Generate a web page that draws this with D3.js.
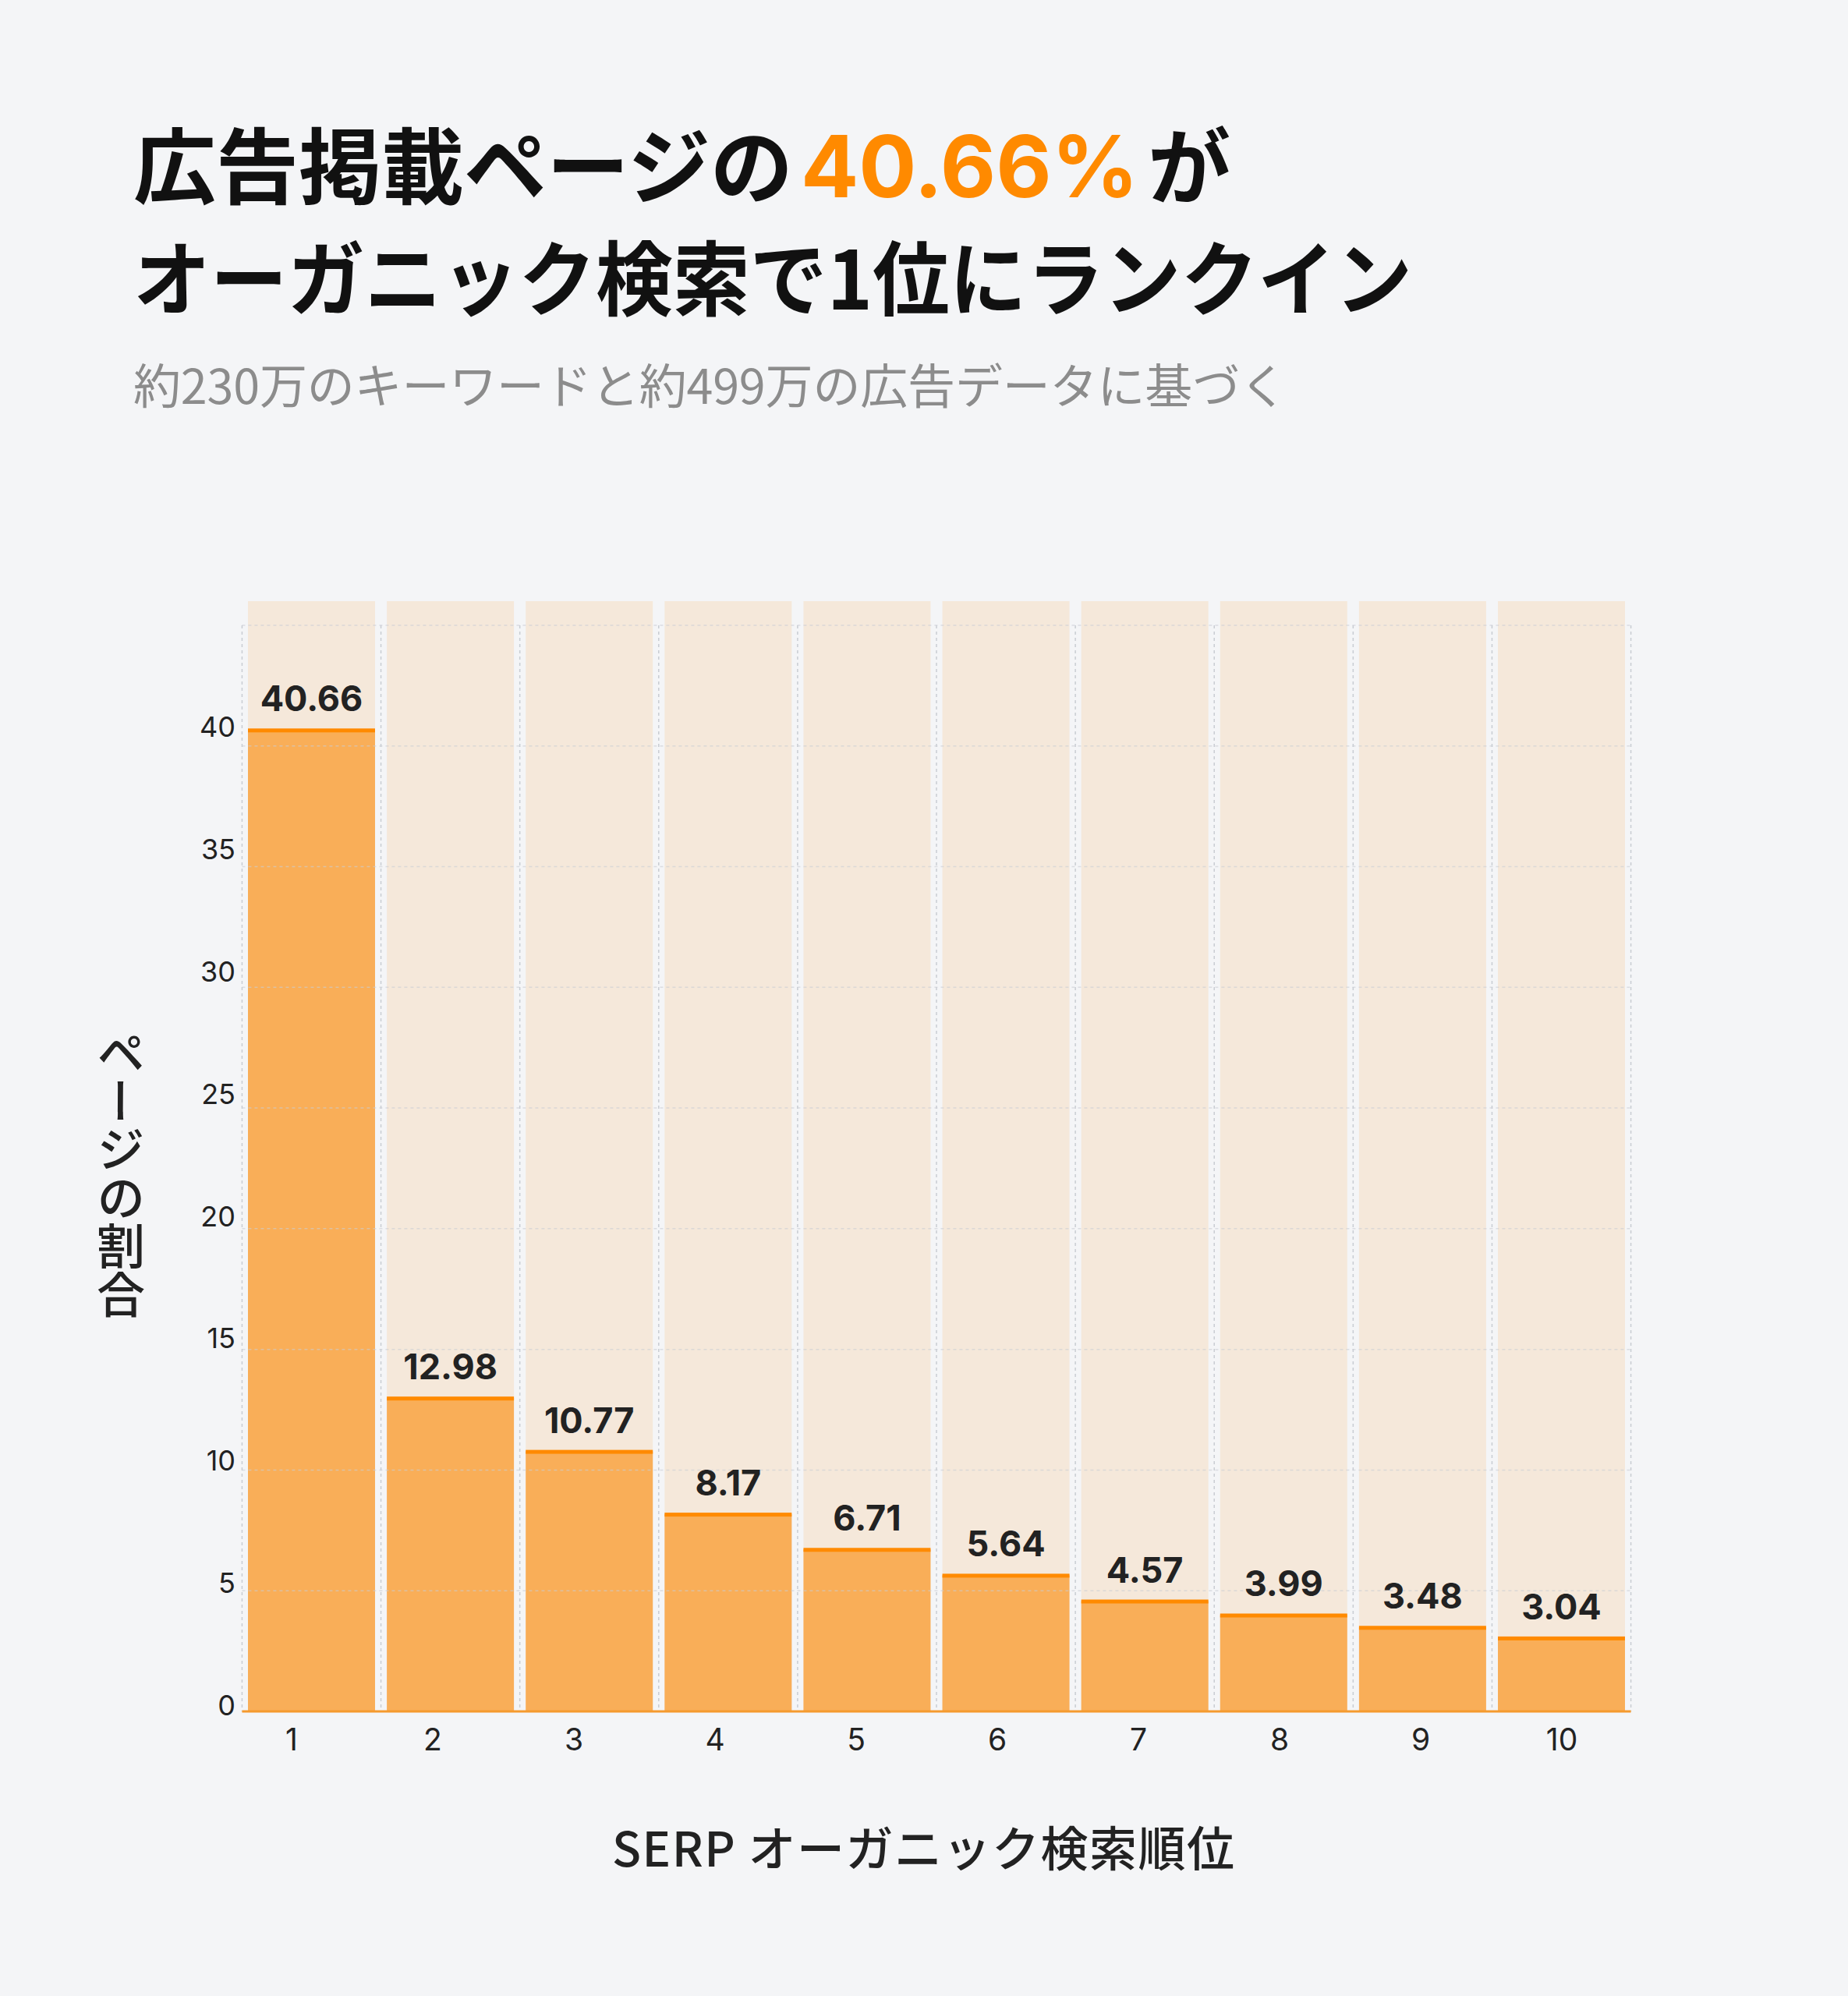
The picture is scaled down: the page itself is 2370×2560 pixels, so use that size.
<!DOCTYPE html>
<html><head><meta charset="utf-8">
<script src="https://cdn.jsdelivr.net/npm/d3@7"></script>
<style>
html,body{margin:0;padding:0;background:#F4F5F7;}
svg{display:block;}
</style></head>
<body>
<script>
const categories = ["1","2","3","4","5","6","7","8","9","10"];
const values = [40.66, 12.98, 10.77, 8.17, 6.71, 5.64, 4.57, 3.99, 3.48, 3.04];
const yTicks = [0,5,10,15,20,25,30,35,40];
const gridTicks = [0,5,10,15,20,25,30,35,40,45];
const titleLine1 = ["広告掲載ページの", "40.66%", "が"];
const titleLine2 = "オーガニック検索で1位にランクイン";
const subtitle = "約230万のキーワードと約499万の広告データに基づく";
const yTitle = "ページの割合";
const xTitle = "SERP オーガニック検索順位";

const W = 2370, H = 2560;
const JP = "'Noto Sans CJK JP','Noto Sans',sans-serif";
const NUM = "Inter,'Noto Sans',sans-serif";

const svg = d3.select("body").append("svg").attr("width", W).attr("height", H);
svg.append("rect").attr("width", W).attr("height", H).attr("fill", "#F4F5F7");

// Title
const t1 = svg.append("text").attr("x", 171).attr("y", 253)
  .attr("font-family", JP).attr("font-weight", 700).attr("font-size", 106).attr("fill", "#111");
t1.append("tspan").text(titleLine1[0]);
t1.append("tspan").attr("dx", 10).attr("fill", "#FF8A00")
  .attr("font-family", NUM).attr("font-size", 110).text(titleLine1[1]);
t1.append("tspan").attr("dx", 12).text(titleLine1[2]);

svg.append("text").attr("x", 171).attr("y", 397)
  .attr("font-family", JP).attr("font-weight", 700).attr("font-size", 104).attr("fill", "#111")
  .attr("textLength", 1640).attr("lengthAdjust", "spacingAndGlyphs")
  .text(titleLine2);

svg.append("text").attr("x", 171).attr("y", 518)
  .attr("font-family", JP).attr("font-weight", 400).attr("font-size", 61).attr("fill", "#8C8C8C")
  .attr("textLength", 1480).attr("lengthAdjust", "spacing")
  .text(subtitle);

// Scales
const x = d3.scaleBand().domain(categories).range([318, 2084]).paddingInner(0.085).paddingOuter(0);
const y = d3.scaleLinear().domain([0, 46]).range([2195, 771]);
const xLabel = d3.scalePoint().domain(categories).range([374, 2003]);
const yLabel = d3.scaleLinear().domain([0, 40]).range([2187, 932]);
const gap = x.step() - x.bandwidth();

// background columns
svg.append("g").selectAll("rect").data(categories).join("rect")
  .attr("x", d => x(d)).attr("width", x.bandwidth())
  .attr("y", y(46)).attr("height", y(0) - y(46))
  .attr("fill", "#F5E8DA");

// bars
svg.append("g").selectAll("rect").data(values).join("rect")
  .attr("x", (d, i) => x(categories[i])).attr("width", x.bandwidth())
  .attr("y", d => y(d)).attr("height", d => y(0) - y(d))
  .attr("fill", "#F9AE58");

// horizontal dotted grid
svg.append("g").selectAll("line").data(gridTicks.slice(1)).join("line")
  .attr("x1", x(categories[0]) - gap / 2).attr("x2", x(categories[9]) + x.bandwidth() + gap / 2)
  .attr("y1", d => y(d)).attr("y2", d => y(d))
  .attr("stroke", "#C9CDD3").attr("stroke-opacity", 0.6).attr("stroke-width", 1.5)
  .attr("stroke-dasharray", "4,4");

// vertical dotted grid lines
const vx = categories.map(c => x(c) - gap / 2).concat([x(categories[9]) + x.bandwidth() + gap / 2]);
svg.append("g").selectAll("line").data(vx).join("line")
  .attr("x1", d => d).attr("x2", d => d)
  .attr("y1", y(45)).attr("y2", y(0))
  .attr("stroke", "#C9CDD3").attr("stroke-width", 1.5).attr("stroke-dasharray", "4,4");

// bar top lines
svg.append("g").selectAll("rect").data(values).join("rect")
  .attr("x", (d, i) => x(categories[i])).attr("width", x.bandwidth())
  .attr("y", d => y(d) - 2).attr("height", 5)
  .attr("fill", "#FF8A00");

// baseline
svg.append("line")
  .attr("x1", x(categories[0]) - gap / 2).attr("x2", x(categories[9]) + x.bandwidth() + gap / 2)
  .attr("y1", y(0)).attr("y2", y(0))
  .attr("stroke", "#F59A2E").attr("stroke-width", 3);

// value labels
svg.append("g").selectAll("text").data(values).join("text")
  .attr("x", (d, i) => x(categories[i]) + x.bandwidth() / 2)
  .attr("y", d => y(d) - 24)
  .attr("text-anchor", "middle")
  .attr("font-family", NUM).attr("font-weight", 700).attr("font-size", 45).attr("fill", "#222")
  .text(d => d.toFixed(2));

// y tick labels
svg.append("g").selectAll("text").data(yTicks).join("text")
  .attr("x", 302).attr("y", d => yLabel(d) + 13)
  .attr("text-anchor", "end")
  .attr("font-family", NUM).attr("font-weight", 400).attr("font-size", 36).attr("fill", "#222")
  .text(d => d);

// x tick labels
svg.append("g").selectAll("text").data(categories).join("text")
  .attr("x", d => xLabel(d)).attr("y", 2245)
  .attr("text-anchor", "middle")
  .attr("font-family", NUM).attr("font-weight", 400).attr("font-size", 39).attr("fill", "#222")
  .text(d => d);

// y title (vertical)
svg.append("text")
  .attr("x", 155).attr("y", 1505)
  .attr("text-anchor", "middle")
  .style("writing-mode", "vertical-rl")
  .style("text-orientation", "upright")
  .attr("font-family", JP).attr("font-weight", 500).attr("font-size", 62).attr("fill", "#222")
  .text(yTitle);

// x title
svg.append("text").attr("x", 1184).attr("y", 2394)
  .attr("text-anchor", "middle")
  .attr("font-family", JP).attr("font-weight", 500).attr("font-size", 61).attr("fill", "#222")
  .attr("textLength", 798).attr("lengthAdjust", "spacing")
  .text(xTitle);
</script>
</body></html>
